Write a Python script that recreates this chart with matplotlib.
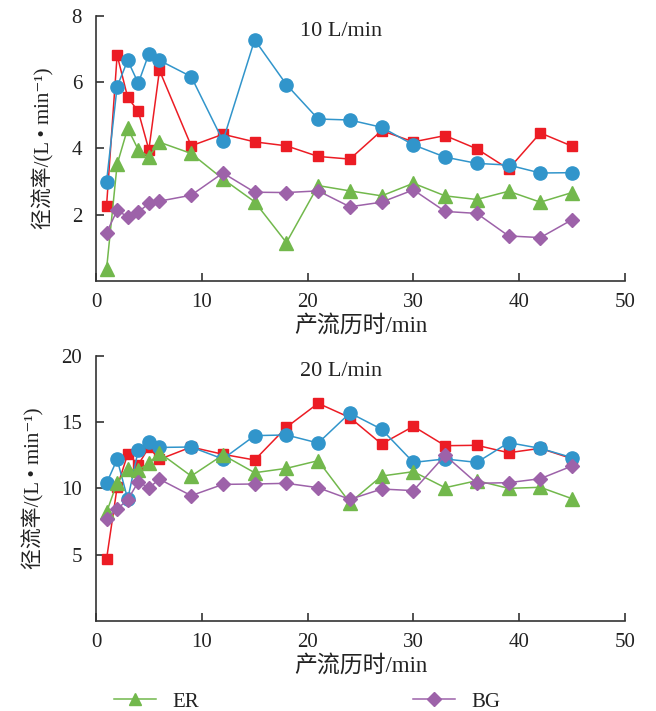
import matplotlib
matplotlib.use("Agg")
import matplotlib.pyplot as plt
from matplotlib.lines import Line2D

plt.rcParams["font.family"] = ["Liberation Serif", "Noto Sans CJK SC", "DejaVu Sans"]

# time points (min)
t = [1, 2, 3, 4, 5, 6, 9, 12, 15, 18, 21, 24, 27, 30, 33, 36, 39, 42, 45]

# 10 L/min runoff rate
red_10 = [2.27, 6.82, 5.54, 5.12, 3.96, 6.36, 4.08, 4.43, 4.20, 4.08, 3.76, 3.68,
          4.54, 4.20, 4.39, 3.99, 3.38, 4.47, 4.07]
blue_10 = [3.00, 5.87, 6.66, 5.97, 6.86, 6.66, 6.17, 4.23, 7.28, 5.93, 4.89, 4.86,
           4.64, 4.11, 3.74, 3.55, 3.50, 3.26, 3.27]
er_10 = [0.36, 3.52, 4.61, 3.96, 3.75, 4.19, 3.85, 3.08, 2.39, 1.16, 2.88, 2.72,
         2.57, 2.95, 2.57, 2.46, 2.71, 2.38, 2.67]
bg_10 = [1.46, 2.13, 1.94, 2.08, 2.34, 2.41, 2.59, 3.26, 2.68, 2.67, 2.72, 2.24,
         2.38, 2.75, 2.10, 2.04, 1.36, 1.31, 1.85]

# 20 L/min runoff rate
red_20 = [4.68, 10.1, 12.6, 11.8, 13.1, 12.2, 13.13, 12.58, 12.15, 14.62, 16.43, 15.35,
          13.36, 14.69, 13.23, 13.26, 12.7, 13.03, 12.25]
blue_20 = [10.4, 12.2, 9.2, 12.9, 13.5, 13.1, 13.13, 12.23, 13.99, 14.04, 13.43, 15.7,
           14.47, 11.97, 12.23, 11.97, 13.46, 13.03, 12.33]
er_20 = [8.2, 10.45, 11.45, 11.4, 11.9, 12.7, 10.94, 12.53, 11.19, 11.52, 12.1, 8.93,
         10.94, 11.27, 10.06, 10.59, 10.01, 10.09, 9.23]
bg_20 = [7.72, 8.45, 9.15, 10.5, 10.05, 10.7, 9.46, 10.31, 10.34, 10.39, 10.06, 9.18,
         9.96, 9.84, 12.5, 10.39, 10.44, 10.74, 11.7]

RED = "#ec1c24"
BLUE = "#3195cb"
GREEN = "#72b84c"
PURPLE = "#9d62a9"
TXT = "#222222"
FS = 15

fig = plt.figure(figsize=(6.56, 7.11), dpi=100)
ax1 = fig.add_axes([0.1463, 0.6048, 0.8064, 0.3727])
ax2 = fig.add_axes([0.1463, 0.1266, 0.8064, 0.3727])


def draw(ax, red, blue, er, bg, ymax, yticks, title):
    ax.plot(t, red, color=RED, marker="s", markersize=7.5, linewidth=1.1)
    ax.plot(t, blue, color=BLUE, marker="o", markersize=9.5, linewidth=1.1)
    ax.plot(t, er, color=GREEN, marker="^", markersize=9.5, linewidth=1.1)
    ax.plot(t, bg, color=PURPLE, marker="D", markersize=7.5, linewidth=1.1)
    ax.set_xlim(0, 50)
    ax.set_ylim(0, ymax)
    ax.set_xticks([0, 10, 20, 30, 40, 50])
    ax.set_yticks(yticks)
    for s in ("top", "right"):
        ax.spines[s].set_visible(False)
    for s in ("left", "bottom"):
        ax.spines[s].set_color("#333333")
        ax.spines[s].set_linewidth(1.2)
    ax.tick_params(axis="both", direction="in", length=6, width=1.2,
                   color="#333333", labelsize=FS, labelcolor=TXT)
    ax.tick_params(axis="x", pad=9)
    ax.tick_params(axis="y", pad=10)
    ax.set_xlabel("产流历时/min", fontsize=16.5, color=TXT, labelpad=2)
    ax.set_ylabel("径流率/(L • min\u207b\u00b9)", fontsize=15, color=TXT, labelpad=12)
    ax.text(0.463, 0.94, title, transform=ax.transAxes, ha="center", va="center",
            fontsize=16, color=TXT)


draw(ax1, red_10, blue_10, er_10, bg_10, 8, [2, 4, 6, 8], "10 L/min")
draw(ax2, red_20, blue_20, er_20, bg_20, 20, [5, 10, 15, 20], "20 L/min")

handles = [
    Line2D([], [], color=GREEN, marker="^", markersize=9, linewidth=1.1),
    Line2D([], [], color=PURPLE, marker="D", markersize=7.5, linewidth=1.1),
]
fig.legend(handles, ["ER", "BG"], ncol=2, frameon=False, fontsize=FS,
           loc="center left", bbox_to_anchor=(0.145, 0.013),
           handlelength=2.0, handletextpad=0.8, columnspacing=10.3,
           labelcolor=TXT)

fig.savefig("out.png", dpi=100)
